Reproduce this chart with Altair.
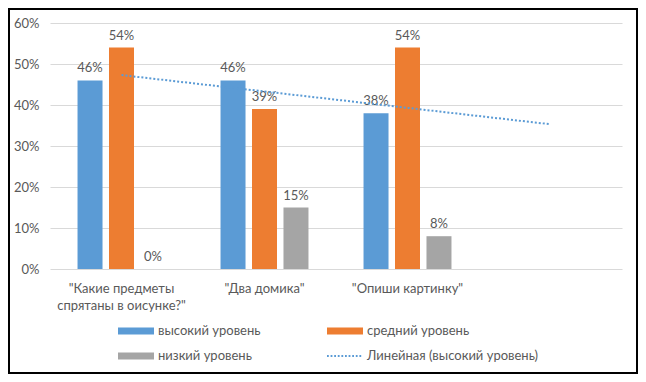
import altair as alt
import pandas as pd

# ---- data ----
categories = ['"Какие предметы\nспрятаны в оисунке?"', '"Два домика"', '"Опиши картинку"']
extra_slot = " "  # empty 4th category slot (trend line forecast)
levels = ["высокий уровень", "средний уровень", "низкий уровень"]
high = [0.46, 0.46, 0.38]
mid = [0.54, 0.39, 0.54]
low = [0.00, 0.15, 0.08]
trend_label = "Линейная (высокий уровень)"
trend_x = [categories[0], extra_slot]
trend_y = [0.473, 0.353]

colors = ["#5B9BD5", "#ED7D31", "#A5A5A5", "#5B9BD5"]
legend_domain = levels + [trend_label]

rows = []
for i, c in enumerate(categories):
    for lv, vals in zip(levels, [high, mid, low]):
        rows.append({"category": c, "level": lv, "value": vals[i]})
df = pd.DataFrame(rows)
trend_df = pd.DataFrame({"category": trend_x, "value": trend_y})
legend_df = pd.DataFrame({"level": legend_domain})

FONT = "Lato"
TXT = "#595959"
W, H = 572, 246
PAD = {"left": 42, "top": 15, "right": 16, "bottom": 105}

x_dom = categories + [extra_slot]
x_scale = alt.Scale(domain=x_dom, paddingInner=0.385, paddingOuter=0.1925)
y_scale = alt.Scale(domain=[0, 0.6])
color_scale = alt.Scale(domain=legend_domain, range=colors)

# legend symbol shapes: wide swatch and dotted line
rect_path = "M-1,-0.19H1V0.19H-1Z"
dots = []
x0 = -1.0
for k in range(10):
    dots.append(f"M{x0:.3f},-0.05H{x0+0.1:.3f}V0.05H{x0:.3f}Z")
    x0 += 0.2
dot_path = "".join(dots)
shape_scale = alt.Scale(domain=legend_domain, range=[rect_path, rect_path, rect_path, dot_path])

x_enc = alt.X("category:N", scale=x_scale, sort=x_dom, title=None,
              axis=alt.Axis(labelExpr="split(datum.value, '\\n')", labelAngle=0,
                            labelFontSize=13, labelColor=TXT, labelFont=FONT,
                            labelLineHeight=17.5, labelPadding=13, ticks=False,
                            tickSize=0, domain=False, labelLimit=300))
y_enc = alt.Y("value:Q", scale=y_scale, title=None,
              axis=alt.Axis(values=[0, 0.1, 0.2, 0.3, 0.4, 0.5, 0.6], format=".0%",
                            labelFontSize=13, labelColor=TXT, labelFont=FONT,
                            labelPadding=11, ticks=False, tickSize=0, domain=False,
                            gridColor="#D9D9D9", gridWidth=1))
xo_enc = alt.XOffset("level:N", scale=alt.Scale(domain=levels, paddingInner=0.206, paddingOuter=0))

border = alt.Chart(alt.Data(values=[{}])).mark_rect(
    filled=False, stroke="black", strokeWidth=2
).encode(
    x=alt.value(-PAD["left"] + 1), x2=alt.value(W + PAD["right"] - 1),
    y=alt.value(-PAD["top"] + 1), y2=alt.value(H + PAD["bottom"] - 1)
)

legend_props = dict(orient="none", legendX=68, legendY=290, columns=2,
                    direction="horizontal", padding=0,
                    symbolSize=1296, symbolOpacity=1, symbolStrokeWidth=0,
                    labelFontSize=13, labelFont=FONT, labelColor=TXT,
                    labelOffset=4, columnPadding=66, rowPadding=-10,
                    labelLimit=300, title=None)

legend_pts = alt.Chart(legend_df).mark_point(filled=True, opacity=0).encode(
    color=alt.Color("level:N", scale=color_scale, title=None,
                    legend=alt.Legend(**legend_props)),
    shape=alt.Shape("level:N", scale=shape_scale, title=None,
                    legend=alt.Legend(**legend_props))
)

bars = alt.Chart(df).mark_bar().encode(
    x=x_enc, xOffset=xo_enc, y=y_enc,
    color=alt.Color("level:N", scale=color_scale)
)

labels = alt.Chart(df).mark_text(
    baseline="bottom", dy=-5, fontSize=13, font=FONT, color=TXT
).encode(
    x=alt.X("category:N", scale=x_scale, sort=x_dom), xOffset=xo_enc,
    y=alt.Y("value:Q", scale=y_scale),
    text=alt.Text("value:Q", format=".0%")
)

trend = alt.Chart(trend_df).mark_line(
    strokeDash=[2, 2], strokeWidth=2, color="#5B9BD5"
).encode(
    x=alt.X("category:N", scale=x_scale, sort=x_dom),
    y=alt.Y("value:Q", scale=y_scale)
)

chart = alt.layer(border, legend_pts, bars, labels, trend).properties(
    width=W, height=H, padding=PAD,
    autosize=alt.AutoSizeParams(type="none"),
    background="white"
).configure_view(strokeWidth=0)

chart.save("out.html", embed_options={"renderer": "svg", "actions": False})
